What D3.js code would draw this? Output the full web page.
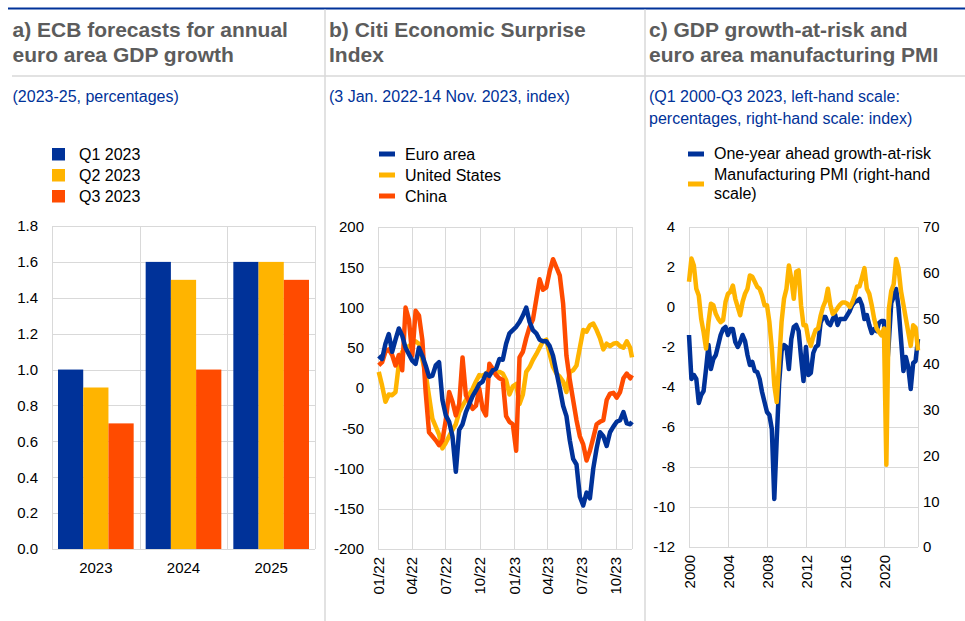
<!DOCTYPE html>
<html>
<head>
<meta charset="utf-8">
<script src="https://cdn.jsdelivr.net/npm/d3@7"></script>
<style>
  body { margin: 0; background: #fff; }
  svg { font-family: "Liberation Sans", Arial, sans-serif; }
  .tick text { font-size: 15px; fill: #000; }
  .grid line { stroke: #d9d9d9; stroke-width: 1; shape-rendering: crispEdges; }
  .title { font-size: 21px; font-weight: bold; fill: #5c5c5c; }
  .sub { font-size: 16px; fill: #003299; }
  .leg { font-size: 16px; fill: #000; }
</style>
</head>
<body>
<svg id="chart" width="965" height="621"></svg>
<script>
// panel a: ECB staff projections
const years = ['2023', '2024', '2025'];
const forecastNames = ['Q1 2023', 'Q2 2023', 'Q3 2023'];
const q1Forecast = [1.0, 1.6, 1.6];
const q2Forecast = [0.9, 1.5, 1.6];
const q3Forecast = [0.7, 1.0, 1.5];

// panel b: Citi surprise index, sampled every ~9 days
const surpriseDates = [
  '2022-01-03','2022-01-12','2022-01-21','2022-01-30','2022-02-08','2022-02-17','2022-02-26',
  '2022-03-07','2022-03-16','2022-03-25','2022-04-03','2022-04-12','2022-04-21','2022-04-30',
  '2022-05-09','2022-05-18','2022-05-27','2022-06-05','2022-06-14','2022-06-23','2022-07-02',
  '2022-07-11','2022-07-20','2022-07-29','2022-08-07','2022-08-16','2022-08-25','2022-09-03',
  '2022-09-12','2022-09-21','2022-09-30','2022-10-09','2022-10-18','2022-10-27','2022-11-05',
  '2022-11-14','2022-11-23','2022-12-02','2022-12-11','2022-12-20','2022-12-29',
  '2023-01-07','2023-01-16','2023-01-25','2023-02-03','2023-02-12','2023-02-21','2023-03-02',
  '2023-03-11','2023-03-20','2023-03-29','2023-04-07','2023-04-16','2023-04-25','2023-05-04',
  '2023-05-13','2023-05-22','2023-05-31','2023-06-09','2023-06-18','2023-06-27','2023-07-06',
  '2023-07-15','2023-07-24','2023-08-02','2023-08-11','2023-08-20','2023-08-29','2023-09-07',
  '2023-09-16','2023-09-25','2023-10-04','2023-10-13','2023-10-22','2023-10-31','2023-11-09',
  '2023-11-14'
];
const euroArea = [
  40, 36, 55, 67, 45, 60, 74, 65, 50, 42, 34, 30, 50, 40, 28, 14, 15, 28, 32, -15,
  -34, -42, -60, -104, -52, -45, -30, -20, -10, -3, 5, 8, 18, 15, 22, 24, 36, 35, 55, 68,
  72, 76, 82, 90, 100, 82, 72, 68, 60, 58, 58, 52, 40, 20, 0, -22, -35, -65, -88, -95,
  -135, -146, -130, -137, -100, -75, -55, -60, -72, -55, -48, -42, -40, -30, -44, -45, -42
];
const unitedStates = [
  20, 3, -17, -8, -9, -5, 30, 45, 48, 52, 55, 58, 55, 35, 18, -10, -38, -48, -58, -75,
  -68, -60, -52, -45, -30, -22, -15, -8, -1, 8, 16, 15, 18, 22, 20, 18, 20, 18, 10, -8,
  2, 5, -20, -8, 20, 26, 35, 42, 50, 58, 60, 42, 26, 18, 14, 8, -5, 20, 22, 28,
  50, 72, 70, 78, 80, 72, 62, 48, 55, 52, 55, 56, 52, 50, 58, 50, 38
];
const china = [
  28, 32, 45, 48, 41, 28, 41, 22, 100, 85, 40, 96, 90, 60, -5, -55, -60, -65, -71, -65,
  -40, -5, -17, -34, -20, 38, -9, -17, -26, -22, -1, -26, -34, 30, 24, 16, 12, 10, -35, -42,
  -45, -78, 38, 45, 62, 76, 85, 110, 135, 122, 125, 145, 160, 150, 140, 105, 40, 10, -15, -40,
  -60, -70, -90, -78, -62, -45, -42, -40, -15, -7, -6, -12, -5, 12, 18, 12, 16
];

// panel c: quarterly, Q1 2000 - Q3 2023
const growthAtRisk = [
  -1.4, -3.6, -3.4, -3.6,  -4.8, -4.4, -4.2, -3.1,  -1.9, -3.1, -2.6, -2.4,
  -1.9, -1.4, -1.1, -1.0,  -1.4, -1.1, -1.1, -1.75, -2.0, -1.75, -1.4, -1.7,
  -2.4, -2.9, -2.75, -3.2, -3.25, -3.6, -4.25, -4.75, -5.25, -5.4, -6.1, -9.6,
  -6.6, -3.8, -2.2, -1.9,  -2.0, -3.1, -1.6, -1.0,  -0.9, -1.2, -2.5, -3.7,
  -2.0, -3.4, -3.3, -2.3,  -2.0, -1.9, -0.8, -0.5,  -0.5, -0.8, -0.9, -0.6,
  -0.4, -0.9, -0.6, -0.6,  -0.6, -0.4, -0.2, 0.1,   0.25, 0.3, 0.4, 0.1,
  -0.6, -0.4, -0.9, -1.3,  -1.1, -1.2, -0.8, -0.7,  -0.7, -3.5, -1.8, 0.2,
  0.5, 0.9, 0.0, -1.6,     -3.2, -2.5, -3.0, -4.1,  -2.8, -2.7, -1.6
];
const manufacturingPmi = [
  58.0, 63.1, 61.6, 56.5,  55.0, 49.9, 47.0, 43.4,  49.2, 53.2, 52.9, 51.0,
  49.9, 49.2, 49.6, 53.6,  55.4, 55.8, 57.2, 54.3,  52.5, 50.7, 53.6, 55.4,
  56.5, 59.4, 59.1, 58.0,  56.9, 56.5, 55.0, 52.9,  52.9, 49.2, 43.4, 35.4,
  31.7, 40.5, 49.2, 54.3,  56.5, 61.6, 58.7, 54.3,  60.2, 60.5, 52.9, 48.5,
  48.5, 45.5, 44.0, 46.0,  47.5, 47.8, 50.5, 52.5,  53.8, 56.5, 53.0, 51.0,
  51.5, 52.3, 53.0, 53.5,  53.5, 53.2, 52.5, 53.5,  55.0, 57.0, 57.0, 59.0,
  61.0, 56.5, 55.4, 52.9,  49.9, 47.8, 47.0, 46.3,  47.8, 18.0, 52.0, 56.0,
  57.5, 63.0, 61.0, 56.0,  53.0, 50.0, 47.0, 44.0,  48.5, 48.0, 43.0
];

const BLUE = '#003299', YELLOW = '#ffb400', ORANGE = '#ff4b00';
const svg = d3.select('#chart');
const num = d => String(+d.toFixed(1));   // plain hyphen minus, as in the source

// frame: blue rule on top, grey separators
svg.append('line').attr('x1', 8).attr('x2', 965).attr('y1', 8.5).attr('y2', 8.5)
    .attr('stroke', BLUE).attr('stroke-width', 2);
svg.append('line').attr('x1', 12).attr('x2', 965).attr('y1', 76).attr('y2', 76)
    .attr('stroke', '#d9d9d9').attr('stroke-width', 1.5);
[325, 645].forEach(function(x) {
    svg.append('line').attr('x1', x).attr('x2', x).attr('y1', 9.5).attr('y2', 621)
        .attr('stroke', '#d9d9d9').attr('stroke-width', 1.5);
});

function textBlock(x, y, lines, lh, cls) {
    let t = svg.append('text').attr('class', cls).attr('x', x).attr('y', y);
    lines.forEach(function(l, i) {
        t.append('tspan').attr('x', x).attr('dy', i ? lh : 0).text(l);
    });
}

textBlock(12.5, 37, ['a) ECB forecasts for annual', 'euro area GDP growth'], 25, 'title');
textBlock(329, 37, ['b) Citi Economic Surprise', 'Index'], 25, 'title');
textBlock(649, 37, ['c) GDP growth-at-risk and', 'euro area manufacturing PMI'], 25, 'title');
textBlock(12.5, 102, ['(2023-25, percentages)'], 22, 'sub');
textBlock(329, 102, ['(3 Jan. 2022-14 Nov. 2023, index)'], 22, 'sub');
textBlock(649, 102, ['(Q1 2000-Q3 2023, left-hand scale:', 'percentages, right-hand scale: index)'], 22, 'sub');

function hGrid(scale, ticks, x0, x1) {
    svg.append('g').attr('class', 'grid').selectAll('line').data(ticks).enter().append('line')
        .attr('x1', x0).attr('x2', x1)
        .attr('y1', d => Math.round(scale(d)) + 0.5).attr('y2', d => Math.round(scale(d)) + 0.5);
}
function vGrid(xs, y0, y1) {
    svg.append('g').attr('class', 'grid').selectAll('line').data(xs).enter().append('line')
        .attr('y1', y0).attr('y2', y1)
        .attr('x1', d => Math.round(d) + 0.5).attr('x2', d => Math.round(d) + 0.5);
}
function cleanAxis(g) {
    g.select('.domain').remove();
    g.selectAll('.tick line').remove();
}
function rotateLabels(g) {
    g.selectAll('.tick text')
        .attr('transform', 'rotate(-90)')
        .attr('text-anchor', 'end')
        .attr('x', -8).attr('y', 0).attr('dy', '0.35em');
}

// ---- panel a
(function() {
    const x0 = d3.scaleBand().domain(years).range([52, 315]);
    const x1 = d3.scaleBand().domain(forecastNames).range([6, x0.bandwidth() - 6]);
    const y = d3.scaleLinear().domain([0, 1.8]).range([549, 226]);
    const colors = d3.scaleOrdinal().domain(forecastNames).range([BLUE, YELLOW, ORANGE]);
    const values = [q1Forecast, q2Forecast, q3Forecast];
    const yTicks = d3.range(0, 10).map(i => i * 0.2);

    hGrid(y, yTicks, 52, 315);
    vGrid(years.map(x0).concat([315]), 226, 549);

    const groups = svg.append('g').selectAll('g').data(years).enter().append('g')
        .attr('transform', d => 'translate(' + x0(d) + ',0)');
    groups.selectAll('rect')
        .data((d, i) => forecastNames.map((s, j) => ({ s: s, v: values[j][i] })))
        .enter().append('rect')
        .attr('x', d => x1(d.s)).attr('width', x1.bandwidth())
        .attr('y', d => y(d.v)).attr('height', d => y(0) - y(d.v))
        .attr('fill', d => colors(d.s));

    svg.append('g').attr('transform', 'translate(52,0)')
        .call(d3.axisLeft(y).tickValues(yTicks)
            .tickFormat(d3.format('.1f')).tickSize(0).tickPadding(14))
        .call(cleanAxis);
    svg.append('g').attr('transform', 'translate(0,549)')
        .call(d3.axisBottom(x0).tickSize(0).tickPadding(13))
        .call(cleanAxis);

    const leg = svg.append('g').selectAll('g').data(forecastNames).enter().append('g')
        .attr('transform', (d, i) => 'translate(52,' + (148 + i * 21) + ')');
    leg.append('rect').attr('width', 13).attr('height', 12.5).attr('fill', d => colors(d));
    leg.append('text').attr('class', 'leg').attr('x', 27).attr('y', 11.5).text(d => d);
})();

// ---- panel b
(function() {
    const parse = d3.timeParse('%Y-%m-%d');
    const dates = surpriseDates.map(parse);
    const x = d3.scaleTime().domain([new Date(2022, 0, 1), new Date(2023, 10, 14)]).range([378, 632]);
    const y = d3.scaleLinear().domain([-200, 200]).range([549, 227]);
    const quarters = d3.timeMonth.every(3).range(new Date(2022, 0, 1), new Date(2023, 10, 14));

    hGrid(y, y.ticks(8), 378, 632);
    vGrid(quarters.map(x).concat([632]), 227, 549);

    const line = d3.line().x((d, i) => x(dates[i])).y(d => y(d));
    const series = [
        { name: 'Euro area', values: euroArea, color: BLUE },
        { name: 'United States', values: unitedStates, color: YELLOW },
        { name: 'China', values: china, color: ORANGE }
    ];
    [1, 2, 0].forEach(function(i) {
        svg.append('path').datum(series[i].values)
            .attr('fill', 'none').attr('stroke', series[i].color)
            .attr('stroke-width', 4.5).attr('stroke-linejoin', 'round')
            .attr('d', line);
    });

    svg.append('g').attr('transform', 'translate(378,0)')
        .call(d3.axisLeft(y).ticks(8).tickFormat(num).tickSize(0).tickPadding(14))
        .call(cleanAxis);
    svg.append('g').attr('transform', 'translate(0,549)')
        .call(d3.axisBottom(x).tickValues(quarters).tickFormat(d3.timeFormat('%m/%y')).tickSize(0))
        .call(cleanAxis).call(rotateLabels);

    const leg = svg.append('g').selectAll('g').data(series).enter().append('g')
        .attr('transform', (d, i) => 'translate(379,' + (154 + i * 21) + ')');
    leg.append('rect').attr('y', -2.5).attr('width', 16).attr('height', 5).attr('fill', d => d.color);
    leg.append('text').attr('class', 'leg').attr('x', 26).attr('y', 5.5).text(d => d.name);
})();

// ---- panel c
(function() {
    const dates = d3.timeMonth.every(3).range(new Date(2000, 0, 1), new Date(2023, 7, 1));
    const x = d3.scaleTime().domain([new Date(2000, 0, 1), new Date(2023, 6, 1)]).range([689, 918]);
    const yL = d3.scaleLinear().domain([-12, 4]).range([547, 227]);
    const yR = d3.scaleLinear().domain([0, 70]).range([547, 227]);
    const yearTicks = d3.timeYear.every(4).range(new Date(2000, 0, 1), new Date(2023, 0, 1));

    hGrid(yL, yL.ticks(8), 689, 918);
    vGrid(yearTicks.map(x).concat([918]), 227, 547);

    svg.append('path').datum(growthAtRisk)
        .attr('fill', 'none').attr('stroke', BLUE).attr('stroke-width', 4.5)
        .attr('stroke-linejoin', 'round')
        .attr('d', d3.line().x((d, i) => x(dates[i])).y(d => yL(d)));
    svg.append('path').datum(manufacturingPmi)
        .attr('fill', 'none').attr('stroke', YELLOW).attr('stroke-width', 4.5)
        .attr('stroke-linejoin', 'round')
        .attr('d', d3.line().x((d, i) => x(dates[i])).y(d => yR(d)));

    svg.append('g').attr('transform', 'translate(689,0)')
        .call(d3.axisLeft(yL).ticks(8).tickFormat(num).tickSize(0).tickPadding(14))
        .call(cleanAxis);
    svg.append('g').attr('transform', 'translate(918,0)')
        .call(d3.axisRight(yR).ticks(7).tickFormat(num).tickSize(0).tickPadding(5))
        .call(cleanAxis);
    svg.append('g').attr('transform', 'translate(0,547)')
        .call(d3.axisBottom(x).tickValues(yearTicks).tickFormat(d3.timeFormat('%Y')).tickSize(0))
        .call(cleanAxis).call(rotateLabels);

    const leg = svg.append('g');
    leg.append('rect').attr('x', 688).attr('y', 151.5).attr('width', 16).attr('height', 5).attr('fill', BLUE);
    leg.append('rect').attr('x', 688).attr('y', 181.5).attr('width', 16).attr('height', 5).attr('fill', YELLOW);
    textBlock(714, 159, ['One-year ahead growth-at-risk'], 21, 'leg');
    textBlock(714, 180, ['Manufacturing PMI (right-hand', 'scale)'], 19, 'leg');
})();
</script>
</body>
</html>
